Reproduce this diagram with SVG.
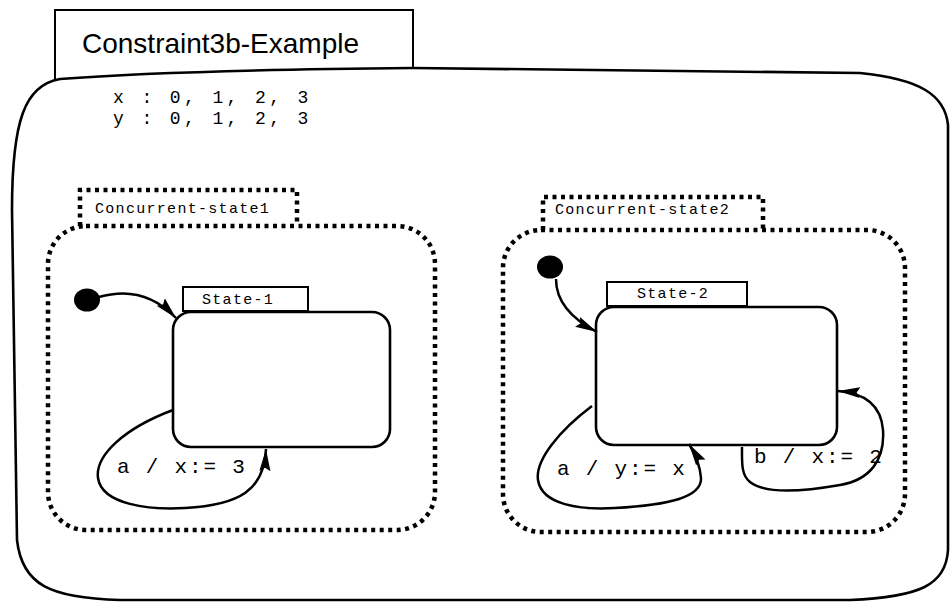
<svg xmlns="http://www.w3.org/2000/svg" width="950" height="603" viewBox="0 0 950 603">
<defs>
<style>
.solid{fill:none;stroke:#000;stroke-width:2.6;stroke-linejoin:round}
.thin{fill:none;stroke:#000;stroke-width:2}
.dot{fill:none;stroke:#000;stroke-width:4.5;stroke-dasharray:4 4.5}
.conn{fill:none;stroke:#000;stroke-width:2.5}
.mono{font-family:"Liberation Mono","Courier New",monospace;fill:#000}
.sans{font-family:"Liberation Sans",Arial,Helvetica,sans-serif;fill:#000}
.var{font-size:18px;letter-spacing:3.4px}
.lbl{font-size:21px;letter-spacing:1.8px}
.small{font-size:15px;letter-spacing:1.3px}
</style>
<marker id="arr" markerUnits="userSpaceOnUse" markerWidth="22" markerHeight="12" refX="20" refY="5" orient="auto" viewBox="0 0 20 10">
<path d="M0,0 L20,5 L0,10 L3,5 Z" fill="#000"/>
</marker>
</defs>
<rect width="950" height="603" fill="#fff"/>

<g id="constraint3b-example">
<path class="thin" d="M55,80 L55,10 L413,10 L413,68"/>
<text class="sans" x="82" y="53" font-size="28">Constraint3b-Example</text>
<path class="solid" d="M60,79 C150,72 300,69 413,68 L860,73 C920,79 945,95 948,125 L948,550 C946,585 920,597 850,600 L120,600 C50,598 22,585 17,540 L12,210 C12,120 25,85 60,79 Z"/>
<text class="mono var" x="113" y="103" xml:space="preserve">x : 0, 1, 2, 3</text>
<text class="mono var" x="113" y="124" xml:space="preserve">y : 0, 1, 2, 3</text>
</g>

<g id="concurrent-state1">
<path class="dot" d="M80,226 L80,190 L297,190 L297,226"/>
<rect class="dot" x="48" y="226" width="387" height="304" rx="38"/>
<text class="mono small" x="95" y="213">Concurrent-state1</text>
</g>

<g id="initial1">
<ellipse cx="87" cy="300" rx="13" ry="11.5" fill="#000"/>
</g>

<g id="state-1">
<rect class="thin" x="183" y="287" width="125" height="24" fill="#fff"/>
<text class="mono small" x="202" y="304">State-1</text>
<rect class="solid" x="173" y="312" width="217" height="135" rx="18" fill="#fff"/>
</g>

<g id="concurrent-state2">
<path class="dot" d="M543,230 L543,197 L763,197 L763,230"/>
<rect class="dot" x="503" y="230" width="402" height="302" rx="38"/>
<text class="mono small" x="555" y="214">Concurrent-state2</text>
</g>

<g id="initial2">
<ellipse cx="550" cy="267" rx="13" ry="11.5" fill="#000"/>
</g>

<g id="state-2">
<rect class="thin" x="607" y="282" width="140" height="24" fill="#fff"/>
<text class="mono small" x="637" y="298">State-2</text>
<rect class="solid" x="596" y="307" width="241" height="138" rx="18" fill="#fff"/>
</g>

<g id="connectors">
<path class="conn" d="M99,297 C130,288 155,296 176,318" marker-end="url(#arr)"/>
<path class="conn" d="M173,410 C125,428 95,455 98,478 C102,505 150,510 185,508 C240,505 264,490 266,449" marker-end="url(#arr)"/>
<text class="mono lbl" x="117" y="473" xml:space="preserve">a / x:= 3</text>
<path class="conn" d="M556,279 C556,300 570,318 597,332" marker-end="url(#arr)"/>
<path class="conn" d="M592,406 C560,430 535,460 538,480 C542,505 580,510 615,508 C670,505 702,497 701,478 C700,466 696,455 689,444" marker-end="url(#arr)"/>
<text class="mono lbl" x="557" y="475" xml:space="preserve">a / y:= x</text>
<path class="conn" d="M742,447 C742,462 741,475 750,482 C765,494 800,492 840,485 C870,480 885,460 883,430 C881,405 865,393 838,391" marker-end="url(#arr)"/>
<text class="mono lbl" x="754" y="463" xml:space="preserve">b / x:= 2</text>
</g>
</svg>
